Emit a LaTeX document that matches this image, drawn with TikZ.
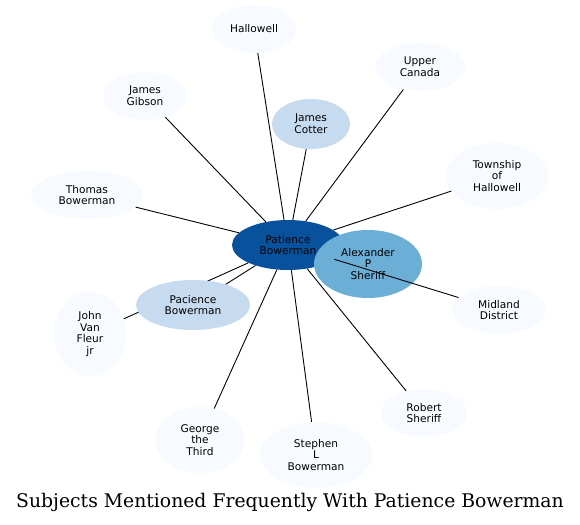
\documentclass[tikz,border=0pt]{standalone}
\usepackage{fontspec}
\setmainfont{DejaVu Sans}
\newfontfamily\titlefont{DejaVu Serif}
\usetikzlibrary{shapes.geometric}
\definecolor{pale}{HTML}{F7FBFF}
\definecolor{lightb}{HTML}{C6DBEF}
\definecolor{midb}{HTML}{6BAED6}
\definecolor{darkb}{HTML}{08519C}
\tikzset{
  ent/.style={ellipse, fill=pale, draw=none, inner sep=0pt, align=center,
    font=\fontsize{10.6}{11.8}\selectfont},
  edge/.style={draw=black, line width=0.9pt}
}
\begin{document}
\begin{tikzpicture}[x=1pt,y=-1pt]
\useasboundingbox (0,0) rectangle (580,524);
\fill[white] (0,0) rectangle (580,524);
\node[ent, minimum width=84, minimum height=48] (hal) at (254,29) {Hallowell};
\node[ent, minimum width=90, minimum height=48] (uc) at (420,67) {Upper\\Canada};
\node[ent, minimum width=84, minimum height=48] (jg) at (145,96) {James\\Gibson};
\node[ent, fill=lightb, minimum width=78, minimum height=50] (jc) at (311,124) {James\\Cotter};
\node[ent, minimum width=102, minimum height=66] (th) at (497,176) {Township\\of\\Hallowell};
\node[ent, minimum width=112, minimum height=48] (tb) at (87,195) {Thomas\\Bowerman};
\node[ent, minimum width=94, minimum height=48] (md) at (499,310) {Midland\\District};
\node[ent, minimum width=72, minimum height=84] (jv) at (90,334) {John\\Van\\Fleur\\jr};
\node[ent, minimum width=90, minimum height=66] (gt) at (200,440) {George\\the\\Third};
\node[ent, minimum width=112, minimum height=66] (sb) at (316,455) {Stephen\\L\\Bowerman};
\node[ent, minimum width=86, minimum height=48] (rs) at (424,413) {Robert\\Sheriff};
\node[ent, fill=darkb, minimum width=112, minimum height=50] (pb) at (288,245) {Patience\\Bowerman};
\draw[edge] (pb) -- (jv);
\node[ent, fill=lightb, minimum width=114, minimum height=50] (pcb) at (193,305) {Pacience\\Bowerman};
\foreach \t in {hal,uc,jg,jc,th,tb,pcb,gt,sb,rs}{\draw[edge] (pb) -- (\t);}
\node[ent, fill=midb, minimum width=108, minimum height=68] (aps) at (368,264) {Alexander\\P\\Sheriff};
\draw[edge] (pb) -- (md);
\node (title) at (290,502) {\titlefont\fontsize{18.8}{21}\selectfont Subjects Mentioned Frequently With Patience Bowerman};
\end{tikzpicture}
\end{document}
